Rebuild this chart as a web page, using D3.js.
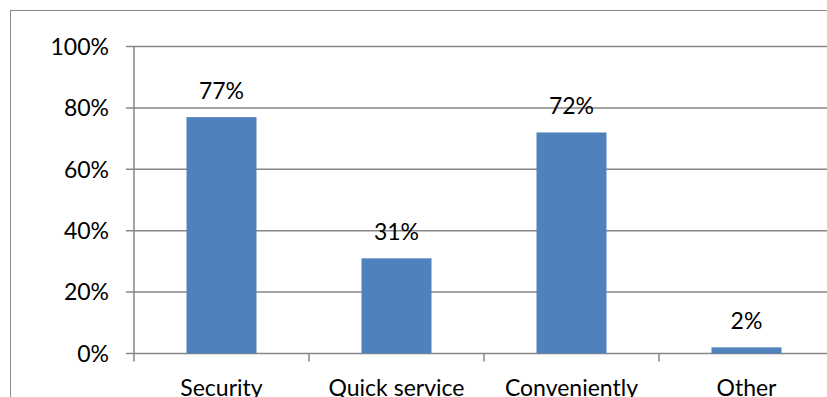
<!DOCTYPE html>
<html>
<head>
<meta charset="utf-8">
<script src="https://cdn.jsdelivr.net/npm/d3@7"></script>
<style>
  body { margin: 0; background: #fff; overflow: hidden; }
  text { font-family: Lato, "Open Sans", sans-serif; fill: #000; }
</style>
</head>
<body>
<div id="chart"></div>
<script>
// data
var categories = ["Security", "Quick service", "Conveniently", "Other"];
var values = [77, 31, 72, 2];
var yTicks = [0, 20, 40, 60, 80, 100];

var W = 827, H = 397;
var margin = { top: 46.5, left: 134, bottom: 43.5 };
var plotW = 700, plotH = H - margin.top - margin.bottom;

var svg = d3.select("#chart").append("svg")
  .attr("width", W)
  .attr("height", H);

// outer chart border
svg.append("rect")
  .attr("x", 10.5).attr("y", 10.5)
  .attr("width", 900).attr("height", 500)
  .attr("fill", "none")
  .attr("stroke", "#8a8a8a")
  .attr("stroke-width", 1);

var g = svg.append("g")
  .attr("transform", "translate(" + margin.left + "," + margin.top + ")");

var x = d3.scaleBand().domain(categories).range([0, plotW]).padding(0);
var y = d3.scaleLinear().domain([0, 100]).range([plotH, 0]);

// gridlines
g.selectAll(".grid")
  .data(yTicks)
  .enter().append("line")
  .attr("x1", -8).attr("x2", plotW)
  .attr("y1", function (d) { return y(d); })
  .attr("y2", function (d) { return y(d); })
  .attr("stroke", "#878787")
  .attr("stroke-width", 1.5);

// y tick labels
g.selectAll(".ylab")
  .data(yTicks)
  .enter().append("text")
  .attr("x", -25)
  .attr("y", function (d) { return y(d); })
  .attr("dy", "0.36em")
  .attr("text-anchor", "end")
  .style("font-size", "23px")
  .text(function (d) { return d + "%"; });

// y axis line
g.append("line")
  .attr("x1", 0).attr("x2", 0)
  .attr("y1", 0).attr("y2", plotH + 8)
  .attr("stroke", "#878787")
  .attr("stroke-width", 1.5);

// category ticks
g.selectAll(".xtick")
  .data(categories.slice(1))
  .enter().append("line")
  .attr("x1", function (d) { return x(d); })
  .attr("x2", function (d) { return x(d); })
  .attr("y1", plotH).attr("y2", plotH + 8)
  .attr("stroke", "#878787")
  .attr("stroke-width", 1.5);

// bars
var barW = x.bandwidth() * 0.4;
g.selectAll(".bar")
  .data(values)
  .enter().append("rect")
  .attr("x", function (d, i) { return x(categories[i]) + (x.bandwidth() - barW) / 2; })
  .attr("y", function (d) { return y(d); })
  .attr("width", barW)
  .attr("height", function (d) { return plotH - y(d); })
  .attr("fill", "#4f81bd");

// value labels
g.selectAll(".vlab")
  .data(values)
  .enter().append("text")
  .attr("x", function (d, i) { return x(categories[i]) + x.bandwidth() / 2; })
  .attr("y", function (d) { return y(d) - 18; })
  .attr("text-anchor", "middle")
  .style("font-size", "23px")
  .text(function (d) { return d + "%"; });

// category labels
g.selectAll(".xlab")
  .data(categories)
  .enter().append("text")
  .attr("x", function (d) { return x(d) + x.bandwidth() / 2; })
  .attr("y", plotH + 42.5)
  .attr("text-anchor", "middle")
  .style("font-size", "23px")
  .text(function (d) { return d; });
</script>
</body>
</html>
